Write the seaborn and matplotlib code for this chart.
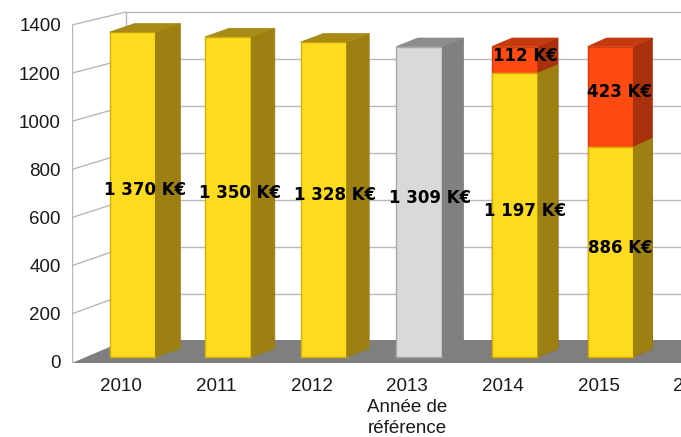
import matplotlib
matplotlib.use('Agg')
import matplotlib.pyplot as plt
from matplotlib.patches import Polygon
import numpy as np
import pandas as pd
import seaborn as sns

# data
years = ['2010', '2011', '2012', '2013', '2014', '2015', '2016']
bar_years = ['2010', '2011', '2012', '2013', '2014', '2015']
base_vals = [1370, 1350, 1328, 1309, 1197, 886]
extra_vals = [0, 0, 0, 0, 112, 423]
ref_year = '2013'
ref_caption = 'Année de\nréférence'
ytick_vals = [0, 200, 400, 600, 800, 1000, 1200, 1400]

YELLOW, YELLOW_SIDE, YELLOW_TOP, YELLOW_EDGE = '#FDDB1F', '#9D8012', '#A88A16', '#D6B200'
RED, RED_SIDE, RED_TOP, RED_EDGE = '#FF4A12', '#A8300C', '#C43A0E', '#D8380A'
GRAY, GRAY_SIDE, GRAY_TOP, GRAY_EDGE = '#D9D9D9', '#808080', '#8C8C8C', '#A8A8A8'
FLOOR = '#7F7F7F'
GRID = '#B8B8B8'

# pseudo-3d geometry (pixels)
W, H = 681, 437
PX_X = 95.6          # px per category
PX_Y = 0.2372        # px per value unit (bar plane)
AX_LEFT, AX_TOP, AX_BOTTOM = 72, 5, 363
ZERO_PX = 357
xmin = (AX_LEFT - 132.5) / PX_X
xmax = 6.6
ymin = -(AX_BOTTOM - ZERO_PX) / PX_Y
ymax = (ZERO_PX - AX_TOP) / PX_Y
back_x = (126 - 132.5) / PX_X
DY = 8.5 / PX_Y


def wall_front(v):
    return 1.0148 * v - 21


def wall_back(v):
    return 0.9907 * v + 67.5


def depth_dx(i):
    return (25 - 1.2 * i) / PX_X


sns.set_style('white')
plt.rcParams['font.family'] = ['Liberation Sans', 'DejaVu Sans']

df = pd.DataFrame({'year': bar_years, 'base': base_vals, 'extra': extra_vals})
df['total'] = df['base'] + df['extra']
df_top = df[df['extra'] > 0]

fig = plt.figure(figsize=(W / 100, H / 100), dpi=100)
ax = fig.add_axes([AX_LEFT / W, (H - AX_BOTTOM) / H,
                   (xmax - xmin) * PX_X / W, (AX_BOTTOM - AX_TOP) / H])

# walls and grid
for v in ytick_vals[1:]:
    ax.plot([xmin, back_x], [wall_front(v), wall_back(v)], color=GRID, lw=1, zorder=0.5)
    ax.plot([back_x, xmax], [wall_back(v), wall_back(v)], color=GRID, lw=1, zorder=0.5)
ax.plot([xmin, xmin], [wall_front(0), wall_front(1400)], color=GRID, lw=1, zorder=0.5)
ax.plot([back_x, back_x], [wall_back(0), wall_back(1400)], color=GRID, lw=1, zorder=0.5)

floor_back = (ZERO_PX - 340) / PX_Y
ax.add_patch(Polygon([(xmin, ymin), (back_x, floor_back), (xmax, floor_back), (xmax, ymin)],
                     closed=True, facecolor=FLOOR, edgecolor='none', zorder=0.8))

# stacked bars: totals (red) underneath, base on top
n0 = len(ax.containers)
sns.barplot(data=df_top, x='year', y='total', order=years, color=RED, width=0.48,
            edgecolor=RED_EDGE, linewidth=1, saturation=1, ax=ax, zorder=2)
red_rects = [r for c in ax.containers[n0:] for r in c]
n1 = len(ax.containers)
palette = {y: (GRAY if y == ref_year else YELLOW) for y in bar_years}
sns.barplot(data=df, x='year', y='base', order=years, hue='year', palette=palette,
            width=0.48, edgecolor=YELLOW_EDGE, linewidth=1, saturation=1,
            legend=False, ax=ax, zorder=3)
base_rects = sorted([r for c in ax.containers[n1:] for r in c], key=lambda r: r.get_x())
for i, r in enumerate(base_rects):
    if bar_years[i] == ref_year:
        r.set_edgecolor(GRAY_EDGE)


def faces(r, dx, side, top, with_top, z):
    x0, w, y0, h = r.get_x(), r.get_width(), r.get_y(), r.get_height()
    x1, y1 = x0 + w, y0 + h
    ax.add_patch(Polygon([(x1, y0), (x1 + dx, y0 + DY), (x1 + dx, y1 + DY), (x1, y1)],
                         closed=True, facecolor=side, edgecolor=side, lw=0.5, zorder=z))
    if with_top:
        ax.add_patch(Polygon([(x0, y1), (x1, y1), (x1 + dx, y1 + DY), (x0 + dx, y1 + DY)],
                             closed=True, facecolor=top, edgecolor=top, lw=0.5, zorder=z))


for r in red_rects:
    i = int(round(r.get_x() + r.get_width() / 2))
    faces(r, depth_dx(i), RED_SIDE, RED_TOP, True, 2.1)

for i, r in enumerate(base_rects):
    is_ref = bar_years[i] == ref_year
    faces(r, depth_dx(i), GRAY_SIDE if is_ref else YELLOW_SIDE,
          GRAY_TOP if is_ref else YELLOW_TOP, extra_vals[i] == 0, 3.1)


def fmt(v):
    return f'{v:,}'.replace(',', ' ') + ' K€'


for i, r in enumerate(base_rects):
    dx = depth_dx(i)
    cx = r.get_x() + r.get_width() / 2 + dx / 2
    ax.text(cx, base_vals[i] / 2 + DY / 2, fmt(base_vals[i]), ha='center', va='center',
            fontsize=12, fontweight='bold', family='DejaVu Sans', color='black', zorder=5)
    if extra_vals[i] > 0:
        ax.text(cx, base_vals[i] + extra_vals[i] / 2 + DY / 2, fmt(extra_vals[i]),
                ha='center', va='center', fontsize=12, fontweight='bold',
                family='DejaVu Sans', color='black', zorder=5)

ax.set_xlim(xmin, xmax)
ax.set_ylim(ymin, ymax)
tick_labels = [y + '\n' + ref_caption if y == ref_year else y for y in years]
ax.set_xticks(np.arange(len(years)) - 0.125, labels=tick_labels)
ax.set_yticks([wall_front(v) for v in ytick_vals], labels=[str(v) for v in ytick_vals])
ax.tick_params(axis='x', length=0, pad=10.5, labelsize=13.5, colors='#1a1a1a')
ax.tick_params(axis='y', length=0, pad=8, labelsize=13.5, colors='#1a1a1a')
for lab in ax.get_xticklabels():
    lab.set_linespacing(1.32)
ax.set_xlabel('')
ax.set_ylabel('')
sns.despine(ax=ax, left=True, bottom=True)

fig.savefig('out.png', dpi=100)
